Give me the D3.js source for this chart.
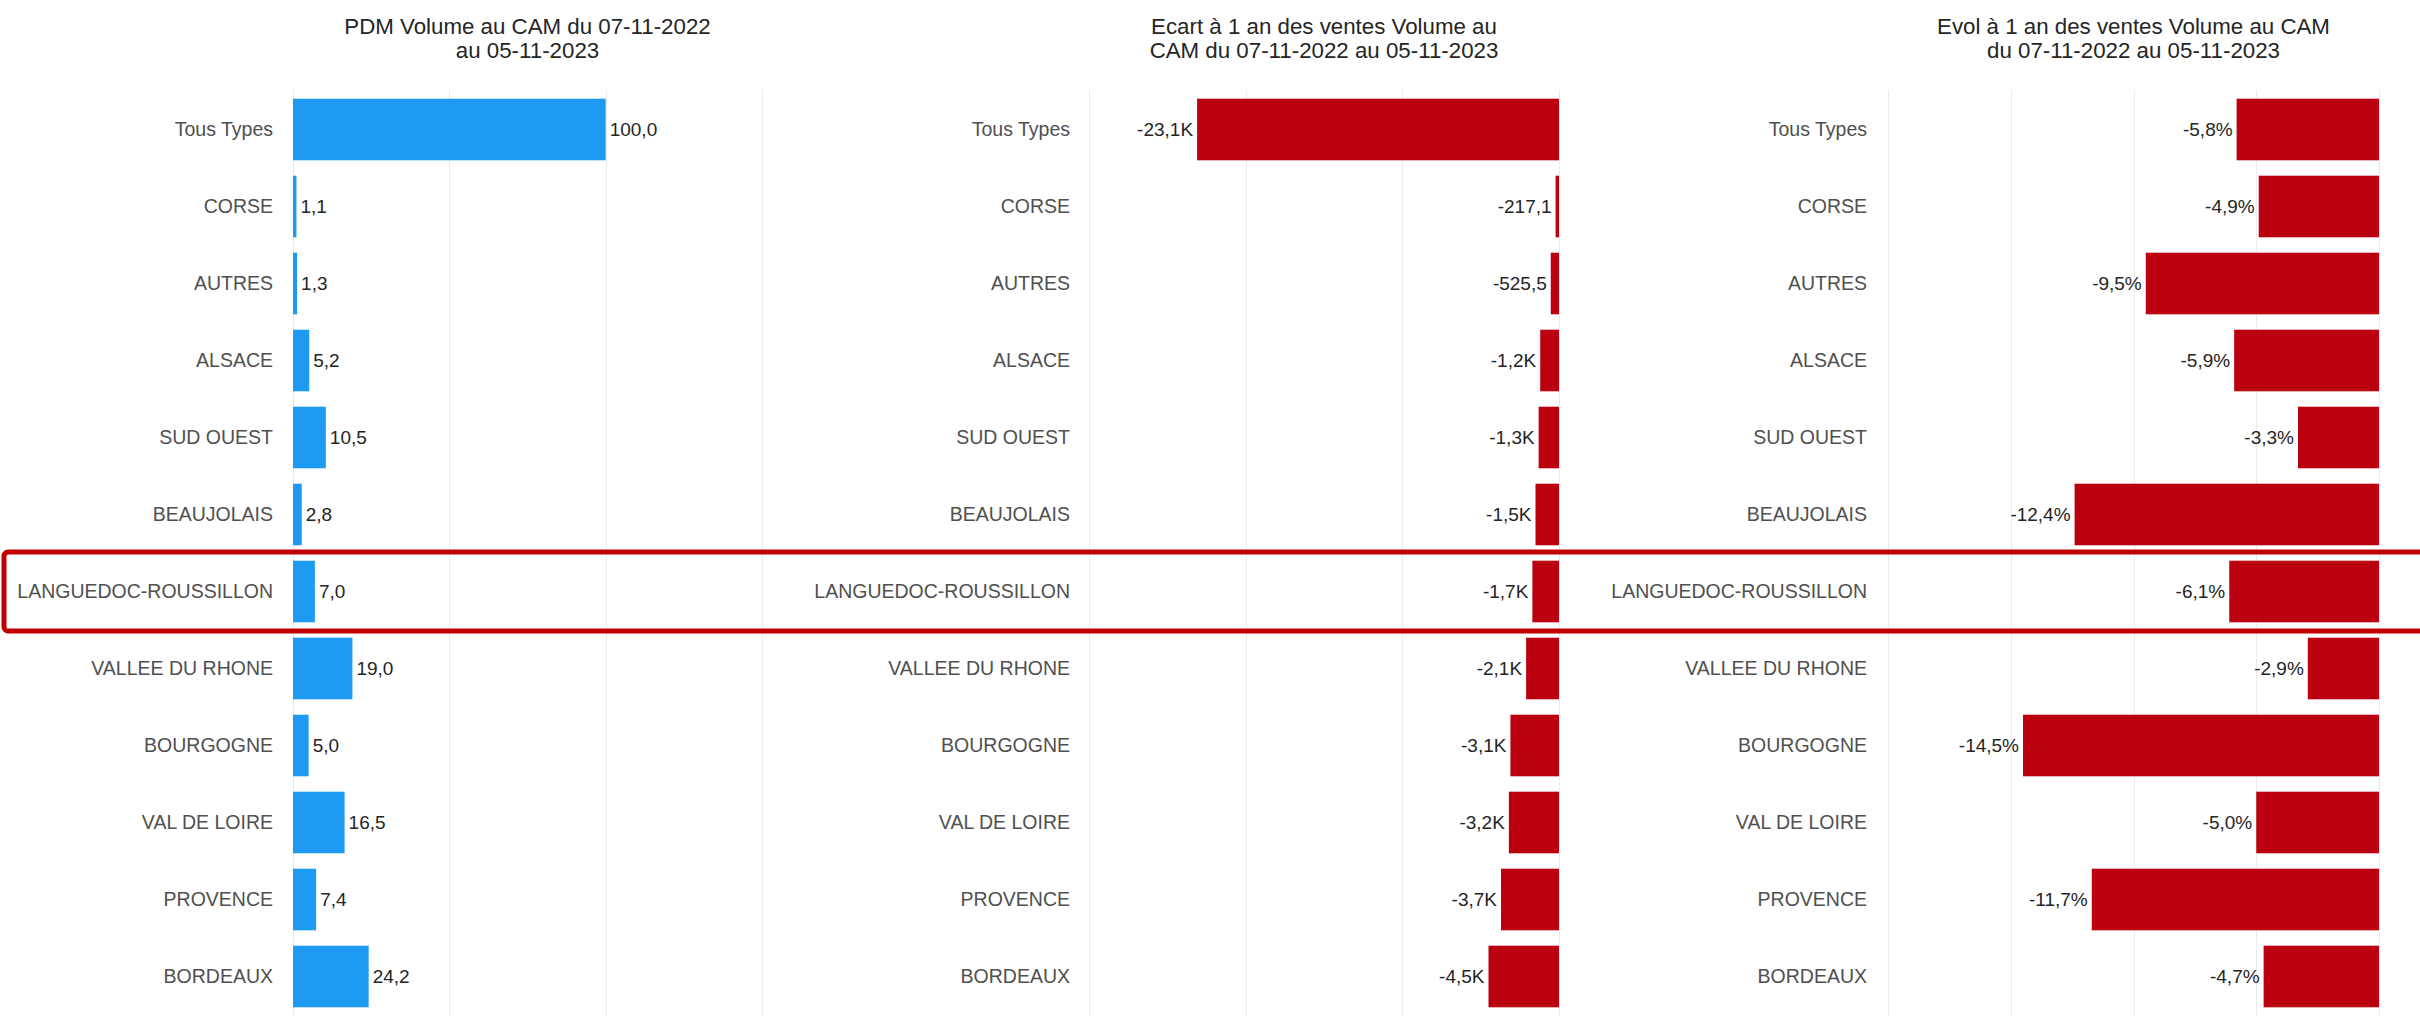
<!DOCTYPE html>
<html lang="fr">
<head>
<meta charset="utf-8">
<style>
  body { margin: 0; background: #fff; }
  svg text { font-family: "Liberation Sans", Arial, sans-serif; }
  .grid line { stroke: #ebebeb; stroke-width: 1px; }
  .cat { fill: #505050; font-size: 19.5px; }
  .val { fill: #252525; font-size: 19px; }
  .title { fill: #252525; font-size: 22.3px; }
</style>
<script src="https://cdn.jsdelivr.net/npm/d3@7"></script>
</head>
<body>
<svg width="2420" height="1016"></svg>
<script>
// categories, top to bottom
var categories = ["Tous Types", "CORSE", "AUTRES", "ALSACE", "SUD OUEST", "BEAUJOLAIS",
  "LANGUEDOC-ROUSSILLON", "VALLEE DU RHONE", "BOURGOGNE", "VAL DE LOIRE", "PROVENCE", "BORDEAUX"];

// PDM volume (%)
var pdm = [100.0, 1.1, 1.3, 5.2, 10.5, 2.8, 7.0, 19.0, 5.0, 16.5, 7.4, 24.2];
// ecart a 1 an (volume)
var ecart = [-23100, -217.1, -525.5, -1200, -1300, -1500, -1700, -2100, -3100, -3200, -3700, -4500];
// evol a 1 an (%)
var evol = [-5.8, -4.9, -9.5, -5.9, -3.3, -12.4, -6.1, -2.9, -14.5, -5.0, -11.7, -4.7];

var highlighted = "LANGUEDOC-ROUSSILLON";

var titles = [
  ["PDM Volume au CAM du 07-11-2022", "au 05-11-2023"],
  ["Ecart à 1 an des ventes Volume au", "CAM du 07-11-2022 au 05-11-2023"],
  ["Evol à 1 an des ventes Volume au CAM", "du 07-11-2022 au 05-11-2023"]
];

var pdmTicks = [0, 50, 100, 150];
var ecartTicks = [-30000, -20000, -10000, 0];
var evolTicks = [-20, -15, -10, -5, 0];

function frNum(v) { return v.toFixed(1).replace(".", ","); }
function fmtPdm(v) { return frNum(v); }
function fmtEcart(v) { return Math.abs(v) >= 1000 ? frNum(v / 1000) + "K" : frNum(v); }
function fmtEvol(v) { return frNum(v) + "%"; }

var panels = [
  { values: pdm, title: titles[0], ticks: pdmTicks, domain: [0, 150], range: [293, 762], labelX: 273, color: "#1e9af3", fmt: fmtPdm },
  { values: ecart, title: titles[1], ticks: ecartTicks, domain: [-30000, 0], range: [1089, 1559], labelX: 1070, color: "#bb0010", fmt: fmtEcart },
  { values: evol, title: titles[2], ticks: evolTicks, domain: [-20, 0], range: [1888, 2379], labelX: 1867, color: "#bb0010", fmt: fmtEvol }
];

var svg = d3.select("svg");

var y = d3.scaleBand()
  .domain(categories)
  .range([91, 1015])
  .paddingInner(0.2)
  .paddingOuter(0.1);

panels.forEach(function(p) {
  var x = d3.scaleLinear().domain(p.domain).range(p.range);
  var g = svg.append("g");

  // grid
  g.append("g").attr("class", "grid")
    .selectAll("line")
    .data(p.ticks)
    .enter().append("line")
    .attr("x1", function(d) { return Math.round(x(d)) + 0.5; })
    .attr("x2", function(d) { return Math.round(x(d)) + 0.5; })
    .attr("y1", 90)
    .attr("y2", 1016);

  // title
  var cx = (p.range[0] + p.range[1]) / 2;
  g.append("text")
    .attr("class", "title")
    .attr("text-anchor", "middle")
    .selectAll("tspan")
    .data(p.title)
    .enter().append("tspan")
    .attr("x", cx)
    .attr("y", function(d, i) { return 34 + i * 24; })
    .text(function(d) { return d; });

  var rows = categories.map(function(c, i) { return { cat: c, v: p.values[i] }; });

  // category labels
  g.selectAll(".cat")
    .data(rows)
    .enter().append("text")
    .attr("class", "cat")
    .attr("x", p.labelX)
    .attr("y", function(d) { return y(d.cat) + y.bandwidth() / 2; })
    .attr("dy", "0.35em")
    .attr("text-anchor", "end")
    .text(function(d) { return d.cat; });

  // bars
  g.selectAll(".bar")
    .data(rows)
    .enter().append("rect")
    .attr("class", "bar")
    .attr("x", function(d) { return x(Math.min(0, d.v)); })
    .attr("y", function(d) { return y(d.cat); })
    .attr("width", function(d) { return Math.abs(x(d.v) - x(0)); })
    .attr("height", y.bandwidth())
    .attr("fill", p.color);

  // value labels
  g.selectAll(".val")
    .data(rows)
    .enter().append("text")
    .attr("class", "val")
    .attr("x", function(d) { return d.v >= 0 ? x(d.v) + 4 : x(d.v) - 4; })
    .attr("y", function(d) { return y(d.cat) + y.bandwidth() / 2; })
    .attr("dy", "0.35em")
    .attr("text-anchor", function(d) { return d.v >= 0 ? "start" : "end"; })
    .text(function(d) { return p.fmt(d.v); });
});

// highlight frame around the selected row
var hy = y(highlighted) + y.bandwidth() / 2;
svg.append("rect")
  .attr("x", 4)
  .attr("y", hy - y.step() / 2 - 1)
  .attr("width", 2440)
  .attr("height", y.step() + 2)
  .attr("rx", 4)
  .attr("fill", "none")
  .attr("stroke", "#c00000")
  .attr("stroke-width", 5);
</script>
</body>
</html>
